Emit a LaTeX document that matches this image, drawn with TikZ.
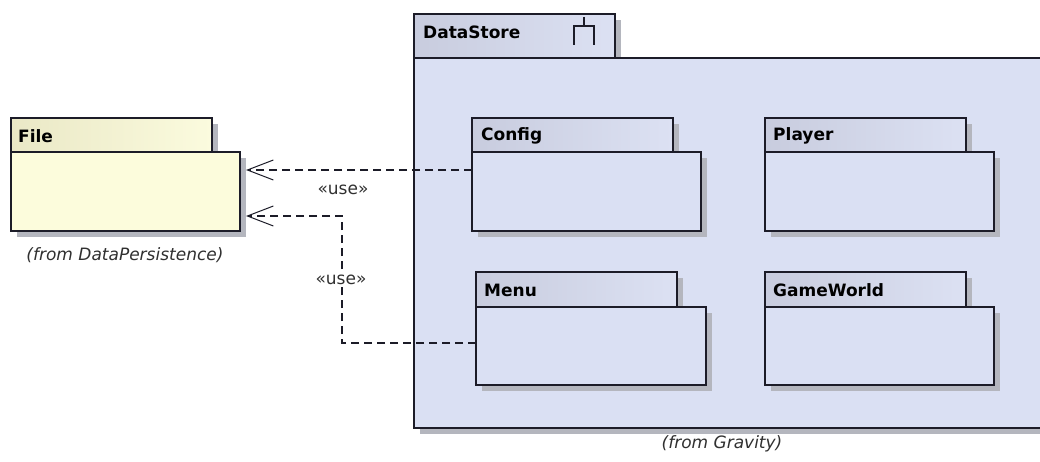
\documentclass[tikz,border=0pt]{standalone}
\usepackage{fontspec}
\setmainfont{DejaVu Sans}[BoldFont={DejaVu Sans Bold},ItalicFont={DejaVu Sans Oblique}]
\usetikzlibrary{arrows.meta,shadows,calc}

\definecolor{edgeC}{HTML}{1C1C28}
\definecolor{fileBodyC}{HTML}{FCFCDC}
\definecolor{fileTabL}{HTML}{EAE8C6}
\definecolor{fileTabR}{HTML}{FBFBDE}
\definecolor{pkgBodyC}{HTML}{DAE0F3}
\definecolor{pkgTabL}{HTML}{C8CCDE}
\definecolor{pkgTabR}{HTML}{DCE1F3}
\definecolor{shadowC}{HTML}{B4B6BE}
\definecolor{noteC}{HTML}{303030}

\tikzset{
  pkgpart/.style={rectangle, draw=edgeC, line width=1.3pt, anchor=north west,
    inner sep=0pt, outer sep=0pt,
    drop shadow={shadow xshift=6pt, shadow yshift=-6pt, fill=shadowC, opacity=1}},
  yellowtab/.style={pkgpart, left color=fileTabL, right color=fileTabR},
  yellowbody/.style={pkgpart, fill=fileBodyC},
  bluetab/.style={pkgpart, left color=pkgTabL, right color=pkgTabR},
  bluebody/.style={pkgpart, fill=pkgBodyC},
  pkgtitle/.style={anchor=west, inner sep=0pt, font=\fontsize{17}{20}\selectfont\bfseries, text=black},
  fromnote/.style={inner sep=0pt, font=\fontsize{17}{20}\selectfont\itshape, text=noteC},
  uselabel/.style={inner sep=2pt, fill=white, font=\fontsize{17}{20}\selectfont, text=noteC},
  usedep/.style={draw=edgeC, line width=1.6pt, dash pattern=on 8pt off 5pt,
    -{Straight Barb[length=26pt,width=20pt,line width=1pt]}},
}

\begin{document}
\begin{tikzpicture}[x=1pt,y=-1pt]
\fill[white] (0,0) rectangle (1040,462);
\useasboundingbox (0,0) rectangle (1040,462);
\clip (0,0) rectangle (1040,462);

% File package (from DataPersistence)
\node[yellowtab, minimum width=201pt, minimum height=34pt] (fileTab) at (11,118) {};
\node[yellowbody, minimum width=229pt, minimum height=79pt] (fileBody) at (11,152) {};
\node[pkgtitle] (fileTitle) at ($(fileTab.north west)+(7,18)$) {File};
\node[fromnote] (fileFrom) at (125,255) {(from DataPersistence)};

% DataStore package (from Gravity)
\node[bluetab, minimum width=201pt, minimum height=44pt] (dsTab) at (414,14) {};
\node[bluebody, minimum width=632pt, minimum height=370pt] (dsBody) at (414,58) {};
\node[pkgtitle] (dsTitle) at ($(dsTab.north west)+(9,18)$) {DataStore};
\draw[edgeC, line width=1.3pt]
  (584,17) -- (584,26)
  (574,45) -- (574,26) -- (594,26) -- (594,45);
\node[fromnote] (dsFrom) at (722,444) {(from Gravity)};

% Nested packages
\node[bluetab, minimum width=201pt, minimum height=34pt] (cfgTab) at (472,118) {};
\node[bluebody, minimum width=229pt, minimum height=79pt] (cfgBody) at (472,152) {};
\node[pkgtitle] (cfgTitle) at ($(cfgTab.north west)+(9,18)$) {Config};

\node[bluetab, minimum width=201pt, minimum height=34pt] (plTab) at (765,118) {};
\node[bluebody, minimum width=229pt, minimum height=79pt] (plBody) at (765,152) {};
\node[pkgtitle] (plTitle) at ($(plTab.north west)+(8,18)$) {Player};

\node[bluetab, minimum width=201pt, minimum height=35pt] (mnTab) at (476,272) {};
\node[bluebody, minimum width=230pt, minimum height=78pt] (mnBody) at (476,307) {};
\node[pkgtitle] (mnTitle) at ($(mnTab.north west)+(8,18)$) {Menu};

\node[bluetab, minimum width=201pt, minimum height=35pt] (gwTab) at (765,272) {};
\node[bluebody, minimum width=229pt, minimum height=78pt] (gwBody) at (765,307) {};
\node[pkgtitle] (gwTitle) at ($(gwTab.north west)+(8,18)$) {GameWorld};

% «use» dependencies
\coordinate (cfgOut) at ($(cfgBody.north west)+(0,18)$);
\coordinate (fileInA) at ($(fileBody.north east)+(6,18)$);
\coordinate (mnOut) at ($(mnBody.north west)+(0,36)$);
\coordinate (fileInB) at ($(fileBody.north east)+(6,64)$);
\coordinate (bend) at (342,0);

\draw[usedep] (cfgOut) -- (fileInA);
\draw[usedep] (mnOut) -- (mnOut -| bend) -- (fileInB -| bend) -- (fileInB);

\node[uselabel] (useA) at (343,190) {«use»};
\node[uselabel] (useB) at (341,280) {«use»};
\end{tikzpicture}
\end{document}
